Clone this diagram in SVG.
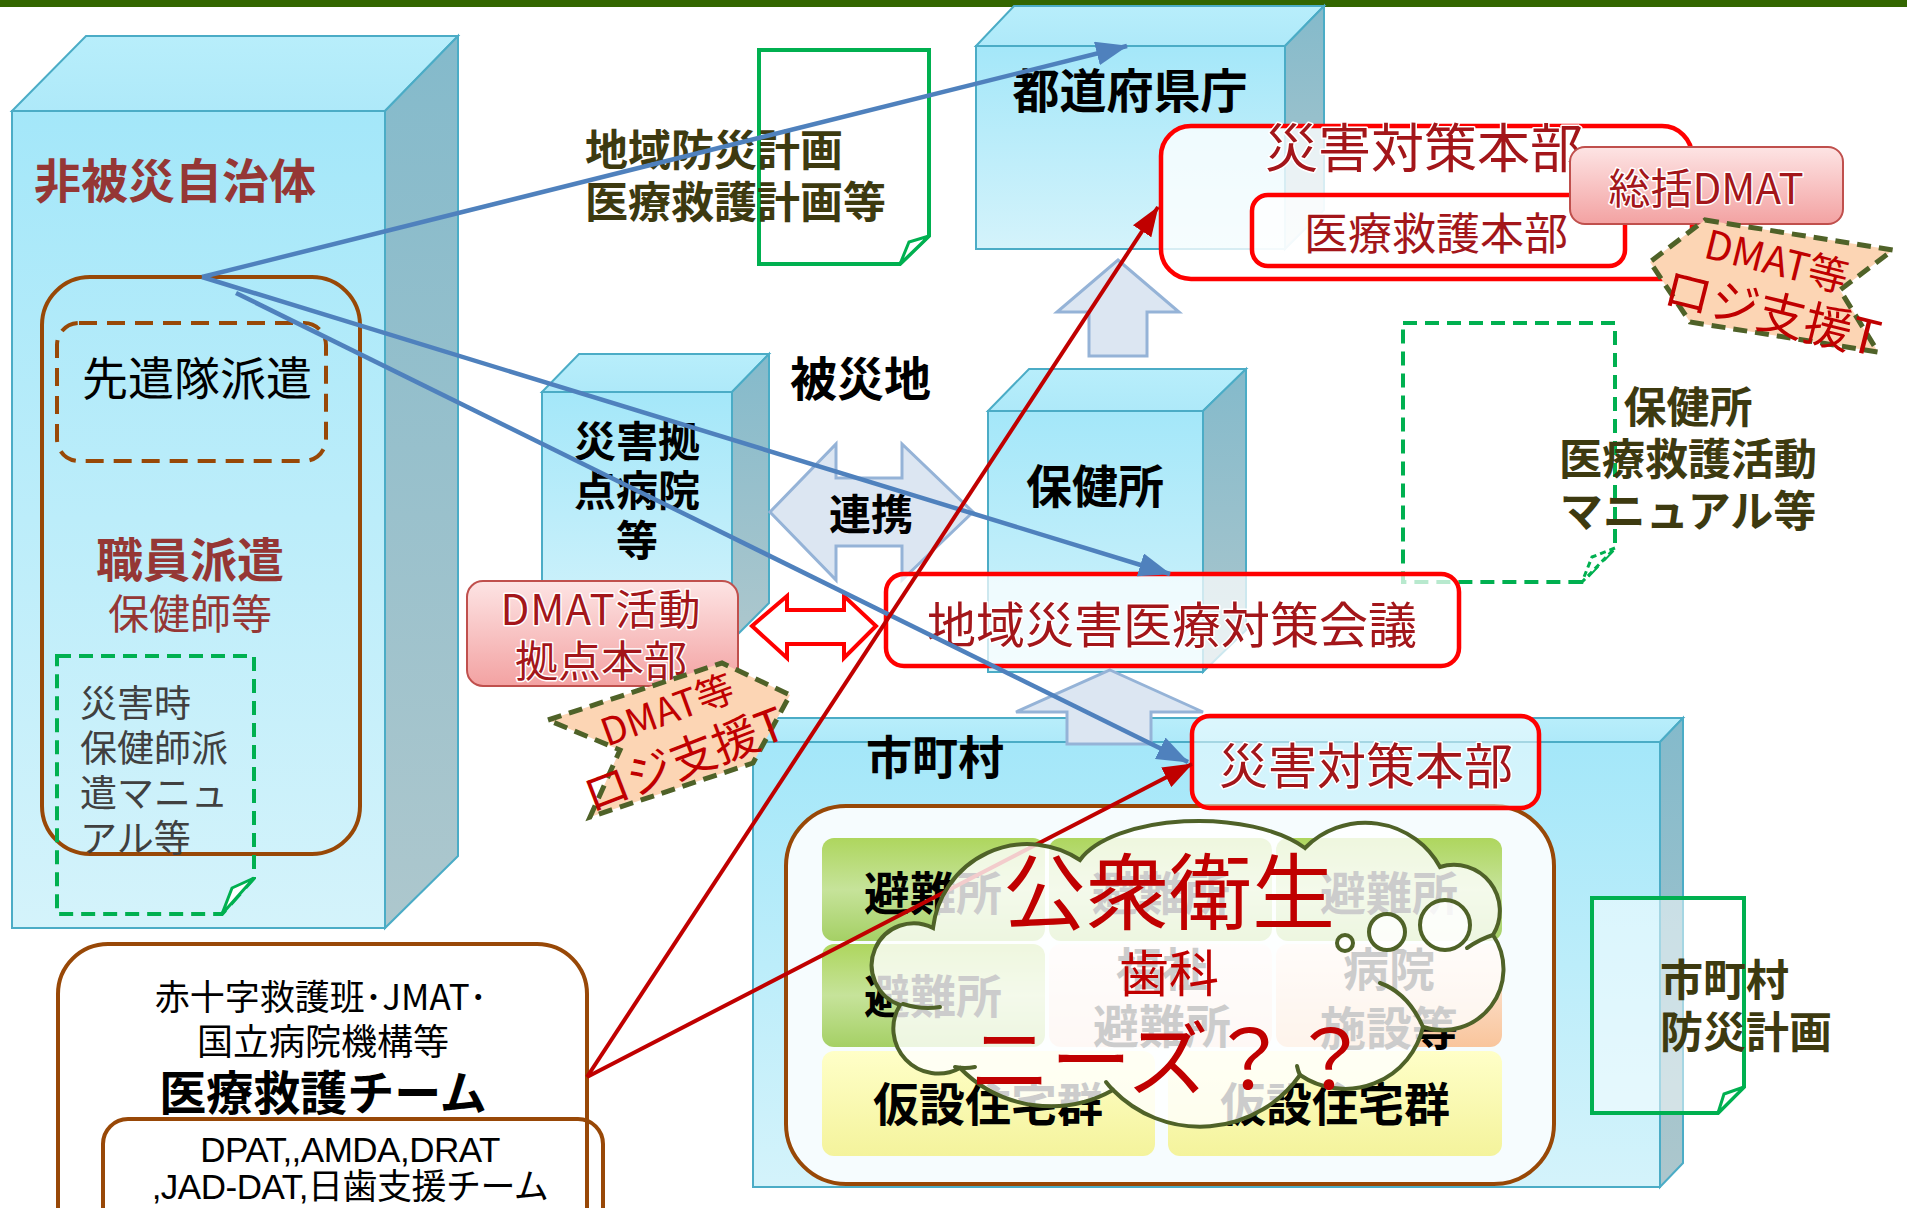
<svg xmlns="http://www.w3.org/2000/svg" width="1907" height="1208" viewBox="0 0 1907 1208">
<defs>
<linearGradient id="gFront" x1="0" y1="0" x2="0" y2="1"><stop offset="0" stop-color="#a4e7f9"/><stop offset="1" stop-color="#d4f3fb"/></linearGradient>
<linearGradient id="gTop" x1="0" y1="0" x2="0" y2="1"><stop offset="0" stop-color="#b8eefb"/><stop offset="1" stop-color="#aee9f9"/></linearGradient>
<linearGradient id="gSide" x1="0" y1="0" x2="0" y2="1"><stop offset="0" stop-color="#84bacb"/><stop offset="1" stop-color="#adc7cd"/></linearGradient>
<linearGradient id="gPink" x1="0" y1="0" x2="0" y2="1"><stop offset="0" stop-color="#fde4e4"/><stop offset="1" stop-color="#f3a2a2"/></linearGradient>
<linearGradient id="gGreen" x1="0" y1="0" x2="0" y2="1"><stop offset="0" stop-color="#aed65e"/><stop offset="0.5" stop-color="#c6e39a"/><stop offset="1" stop-color="#a5d065"/></linearGradient>
<linearGradient id="gPk2" x1="0" y1="0" x2="0" y2="1"><stop offset="0" stop-color="#fdf2ee"/><stop offset="1" stop-color="#f8dccd"/></linearGradient>
<linearGradient id="gPk3" x1="0" y1="0" x2="0" y2="1"><stop offset="0" stop-color="#fdeee4"/><stop offset="1" stop-color="#f9c59c"/></linearGradient>
<linearGradient id="gYel" x1="0" y1="0" x2="0" y2="1"><stop offset="0" stop-color="#ffffc8"/><stop offset="1" stop-color="#f4f39c"/></linearGradient>
<marker id="mBlue" markerUnits="userSpaceOnUse" markerWidth="32" markerHeight="24" refX="31" refY="12" orient="auto"><path d="M0,0 L32,12 L0,24 z" fill="#4f81bd"/></marker>
<marker id="mRed" markerUnits="userSpaceOnUse" markerWidth="30" markerHeight="22" refX="29" refY="11" orient="auto"><path d="M0,0 L30,11 L0,22 z" fill="#c00000"/></marker>
<style>
.jp{font-family:"Noto Sans CJK JP","Noto Sans CJK SC",sans-serif}
.b{font-weight:700}
.front{fill:url(#gFront);stroke:#4bacc6;stroke-width:2}
.top{fill:url(#gTop);stroke:#4bacc6;stroke-width:2}
.side{fill:url(#gSide);stroke:#4bacc6;stroke-width:2}
.dr{fill:#953735}
.rt{fill:#a3161a;stroke:#ffffff;stroke-width:3;paint-order:stroke;stroke-linejoin:round}
.olive{fill:#3d3a10}
.brown{fill:none;stroke:#984807;stroke-width:4}
.redbox{stroke:#ff0000;stroke-width:4.5}
.pinkbox{fill:url(#gPink);stroke:#c0504d;stroke-width:2}
.doc{fill:none;stroke:#00b050;stroke-width:4}
.docd{fill:none;stroke:#00b050;stroke-width:4;stroke-dasharray:14 8}
.fold{fill:#ffffff;stroke:#00b050;stroke-width:3}
.blk{fill:#000}
.bluearrow{fill:#dce6f2;stroke:#95b3d7;stroke-width:3}
.logi{fill:#fcd5b4;stroke:#4f6228;stroke-width:5;stroke-dasharray:14 8}
.logit{fill:#c00000;font-family:"Noto Sans CJK JP",sans-serif}
.bl{fill:none;stroke:#4f81bd;stroke-width:4.5}
.rl{fill:none;stroke:#c00000;stroke-width:4}
.cell{stroke:none}
.ct{font-family:"Noto Sans CJK JP",sans-serif;font-weight:700;font-size:46px;fill:#000;text-anchor:middle}
.cl{fill:#ffffff;fill-opacity:0.8;stroke:#4f6228;stroke-width:4}
.hook{fill:none;stroke:#4f6228;stroke-width:4;stroke-linecap:round}
</style>
</defs>
<rect x="0" y="0" width="1907" height="1208" fill="#ffffff"/>
<rect x="0" y="0" width="1907" height="7" fill="#336600"/>

<!-- 非被災自治体 -->
<g id="hihisai">
<polygon class="front" points="12,111 385,111 385,928 12,928"/>
<polygon class="top" points="12,111 86,36 458,36 385,111"/>
<polygon class="side" points="385,111 458,36 458,856 385,928"/>
<text class="jp b dr" x="34" y="198" font-size="47">非被災自治体</text>
<rect class="brown" x="42" y="277" width="318" height="577" rx="48"/>
</g>
<g id="senken">
<rect x="57" y="323" width="269" height="138" rx="22" fill="none" stroke="#984807" stroke-width="4" stroke-dasharray="18 10"/>
<text class="jp blk" x="197" y="395" font-size="46" text-anchor="middle">先遣隊派遣</text>
</g>
<g id="shokuin">
<text class="jp b dr" x="190" y="577" font-size="47" text-anchor="middle">職員派遣</text>
<text class="jp dr" x="190" y="629" font-size="41" text-anchor="middle">保健師等</text>
</g>
<g id="manual1">
<path class="docd" d="M57,656 H254 V878 L222,914 H57 Z"/>
<path class="fold" d="M254,878 L232,888 L222,914 Z"/>
<g class="jp" font-size="37" fill="#404040">
<text x="80" y="717">災害時</text>
<text x="80" y="762">保健師派</text>
<text x="80" y="807">遣マニュ</text>
<text x="80" y="852">アル等</text>
</g>
</g>

<!-- 医療救護チーム -->
<g id="iryoteam">
<rect class="brown" x="58" y="944" width="529" height="320" rx="50" fill="#ffffff"/>
<text class="jp blk" x="321" y="1010" font-size="35" text-anchor="middle">赤十字救護班･JMAT･</text>
<text class="jp blk" x="323" y="1055" font-size="36" text-anchor="middle">国立病院機構等</text>
<text class="jp b blk" x="323" y="1110" font-size="47" text-anchor="middle">医療救護チーム</text>
<rect class="brown" x="103" y="1119" width="500" height="130" rx="25" fill="#ffffff"/>
<text x="350" y="1162" font-size="35" text-anchor="middle" font-family="Liberation Sans, sans-serif" letter-spacing="-0.5">DPAT,,AMDA,DRAT</text>
<text x="350" y="1199" font-size="35" text-anchor="middle" font-family="Liberation Sans, 'Noto Sans CJK JP', sans-serif" letter-spacing="-0.5">,JAD-DAT,日歯支援チーム</text>
</g>

<!-- 地域防災計画 -->
<g id="chiikiplan">
<path class="doc" d="M759,50 H929 V236 L900,264 H759 Z"/>
<path class="fold" d="M929,236 L909,242 L900,264 Z"/>
<text class="jp b olive" x="585" y="166" font-size="43">地域防災計画</text>
<text class="jp b olive" x="585" y="218" font-size="43">医療救護計画等</text>
</g>

<g id="hisaichi">
<text class="jp b blk" x="790" y="396" font-size="47">被災地</text>
</g>

<!-- 都道府県庁 -->
<g id="todofuken">
<polygon class="front" points="976,46 1285,46 1285,249 976,249"/>
<polygon class="top" points="976,46 1014,6 1324,6 1285,46"/>
<polygon class="side" points="1285,46 1324,6 1324,210 1285,249"/>
<text class="jp b blk" x="1130" y="108" font-size="47" text-anchor="middle">都道府県庁</text>
</g>

<!-- 災害拠点病院 -->
<g id="kyoten">
<polygon class="front" points="542,392 732,392 732,640 542,640"/>
<polygon class="top" points="542,392 579,354 769,354 732,392"/>
<polygon class="side" points="732,392 769,354 769,603 732,640"/>
<text class="jp b blk" x="637" y="457" font-size="42" text-anchor="middle">災害拠</text>
<text class="jp b blk" x="637" y="506" font-size="42" text-anchor="middle">点病院</text>
<text class="jp b blk" x="637" y="556" font-size="42" text-anchor="middle">等</text>
</g>

<!-- 保健所 -->
<g id="hokenjo">
<polygon class="front" points="988,411 1203,411 1203,672 988,672"/>
<polygon class="top" points="988,411 1029,369 1246,369 1203,411"/>
<polygon class="side" points="1203,411 1246,369 1246,630 1203,672"/>
<text class="jp b blk" x="1095" y="503" font-size="46" text-anchor="middle">保健所</text>
</g>

<!-- 市町村 -->
<g id="shichoson">
<polygon class="front" points="753,742 1660,742 1660,1187 753,1187"/>
<polygon class="top" points="753,742 776,718 1683,718 1660,742"/>
<polygon class="side" points="1660,742 1683,718 1683,1163 1660,1187"/>
<text class="jp b blk" x="866" y="774" font-size="46">市町村</text>
<rect x="786" y="806" width="768" height="378" rx="60" fill="#f6fcfe" stroke="#984807" stroke-width="4"/>
</g>
<g id="cells">
<rect class="cell" x="822" y="838" width="223" height="103" rx="12" fill="url(#gGreen)"/>
<rect class="cell" x="1049" y="838" width="223" height="103" rx="12" fill="url(#gGreen)"/>
<rect class="cell" x="1276" y="838" width="226" height="103" rx="12" fill="url(#gGreen)"/>
<rect class="cell" x="822" y="944" width="223" height="103" rx="12" fill="url(#gGreen)"/>
<rect class="cell" x="1049" y="944" width="223" height="103" rx="12" fill="url(#gPk2)"/>
<rect class="cell" x="1276" y="944" width="226" height="103" rx="12" fill="url(#gPk3)"/>
<rect class="cell" x="822" y="1051" width="333" height="105" rx="12" fill="url(#gYel)"/>
<rect class="cell" x="1168" y="1051" width="334" height="105" rx="12" fill="url(#gYel)"/>
<text class="ct" x="933" y="910">避難所</text>
<text class="ct" x="1161" y="910">避難所</text>
<text class="ct" x="1389" y="910">避難所</text>
<text class="ct" x="933" y="1013">避難所</text>
<text class="ct" x="1162" y="986">福祉</text>
<text class="ct" x="1162" y="1043">避難所</text>
<text class="ct" x="1389" y="986">病院</text>
<text class="ct" x="1389" y="1045">施設等</text>
<text class="ct" x="988" y="1121" font-size="47">仮設住宅群</text>
<text class="ct" x="1335" y="1121" font-size="47">仮設住宅群</text>
</g>

<!-- 市町村防災計画 -->
<g id="shiplan">
<path d="M1592,898 H1744 V1087 L1718,1113 H1592 Z" fill="#ffffff" fill-opacity="0.5" stroke="#00b050" stroke-width="4"/>
<path class="fold" d="M1744,1087 L1724,1094 L1718,1113 Z"/>
<text class="jp b olive" x="1660" y="996" font-size="43">市町村</text>
<text class="jp b olive" x="1660" y="1048" font-size="43">防災計画</text>
</g>

<!-- 保健所マニュアル -->
<g id="manual2">
<path class="docd" d="M1403,323 H1615 V548 L1582,582 H1403 Z"/>
<path class="fold" d="M1615,548 L1592,557 L1582,582 Z" stroke-dasharray="6 4"/>
<text class="jp b olive" x="1688" y="423" font-size="43" text-anchor="middle">保健所</text>
<text class="jp b olive" x="1688" y="475" font-size="43" text-anchor="middle">医療救護活動</text>
<text class="jp b olive" x="1688" y="527" font-size="43" text-anchor="middle">マニュアル等</text>
</g>

<!-- block arrows -->
<g id="renkei">
<polygon class="bluearrow" points="770,512 836,444 836,478 902,478 902,444 973,512 902,580 902,546 836,546 836,580"/>
<text class="jp b blk" x="871" y="530" font-size="42" text-anchor="middle">連携</text>
</g>
<g id="uparrow1">
<polygon class="bluearrow" points="1118,260 1179,312 1147,312 1147,356 1089,356 1089,312 1057,312"/>
</g>
<g id="uparrow2">
<polygon class="bluearrow" points="1110,670 1203,712 1151,712 1151,744 1067,744 1067,712 1016,712"/>
</g>

<!-- red boxes -->
<g id="ken-saitai">
<rect class="redbox" x="1161" y="126" width="531" height="153" rx="30" fill="#ffffff" fill-opacity="0.78"/>
<text class="jp rt" x="1424" y="168" font-size="53" text-anchor="middle">災害対策本部</text>
</g>
<g id="iryohonbu">
<rect class="redbox" x="1252" y="195" width="373" height="71" rx="16" fill="#ffffff" fill-opacity="0.7"/>
<text class="jp rt" x="1436" y="250" font-size="44" text-anchor="middle">医療救護本部</text>
</g>
<g id="sokatsu">
<rect class="pinkbox" x="1570" y="147" width="273" height="77" rx="15"/>
<text class="jp rt" x="1706" y="204" font-size="42" text-anchor="middle">総括DMAT</text>
</g>
<g id="logi2">
<polygon class="logi" points="1705,220 1893,250 1840,290 1878,352 1690,322 1650,262"/>
<text class="logit" font-size="40" text-anchor="middle" transform="translate(1773,275) rotate(14)">DMAT等</text>
<text class="logit" font-size="48" text-anchor="middle" transform="translate(1768,330) rotate(14)">ロジ支援T</text>
</g>
<g id="dmatkyoten">
<rect class="pinkbox" x="467" y="581" width="271" height="105" rx="16"/>
<text class="jp rt" x="601" y="625" font-size="42" text-anchor="middle" letter-spacing="1">DMAT活動</text>
<text class="jp rt" x="601" y="677" font-size="43" text-anchor="middle">拠点本部</text>
</g>
<g id="logi1">
<polygon class="logi" points="548,720 722,663 790,695 753,763 590,817 620,750"/>
<text class="logit" font-size="38" text-anchor="middle" transform="translate(672,723) rotate(-20)">DMAT等</text>
<text class="logit" font-size="46" text-anchor="middle" transform="translate(690,775) rotate(-21)">ロジ支援T</text>
</g>
<g id="redlr">
<polygon points="752,626 787,596 787,610 844,610 844,596 876,626 844,658 844,644 787,644 787,658" fill="#ffffff" stroke="#ff0000" stroke-width="4"/>
</g>
<g id="kaigi">
<rect class="redbox" x="886" y="574" width="573" height="92" rx="18" fill="#ffffff" fill-opacity="0.72"/>
<text class="jp rt" x="1172" y="643" font-size="49" text-anchor="middle">地域災害医療対策会議</text>
</g>
<g id="shi-saitai">
<rect class="redbox" x="1192" y="716" width="347" height="92" rx="18" fill="#ffffff" fill-opacity="0.5"/>
<text class="jp rt" x="1366" y="784" font-size="49" text-anchor="middle">災害対策本部</text>
</g>

<!-- connectors -->
<g id="connectors">
<line class="bl" x1="202" y1="277" x2="1127" y2="46" marker-end="url(#mBlue)"/>
<line class="bl" x1="202" y1="277" x2="1170" y2="574" marker-end="url(#mBlue)"/>
<line class="bl" x1="236" y1="293" x2="1188" y2="762" marker-end="url(#mBlue)"/>
<line class="rl" x1="587" y1="1077" x2="1158" y2="207" marker-end="url(#mRed)"/>
<line class="rl" x1="587" y1="1077" x2="1192" y2="764" marker-end="url(#mRed)"/>
</g>

<!-- cloud -->
<g id="cloud">
<path class="cl" d="M900,1005 A42,42 0 1 1 933,928 A95,95 0 0 1 1080,860 A125,57 0 0 1 1305,848 A85,85 0 0 1 1440,867 A46,46 0 0 1 1493,935 A61,61 0 0 1 1423,1027 A80,80 0 0 1 1300,1075 A122,122 0 0 1 1113,1090 A127,127 0 0 1 960,1068 A45,45 0 0 1 900,1005 Z"/>
<path class="hook" d="M903,1004 Q922,1010 940,1007"/>
<path class="hook" d="M955,1067 Q965,1069 975,1067"/>
<path class="hook" d="M1423,1027 Q1408,993 1380,983"/>
<path class="hook" d="M1493,935 Q1480,939 1467,948"/>
<path class="hook" d="M1113,1090 Q1109,1086 1106,1082"/>
<path class="hook" d="M1300,1075 Q1298,1071 1297,1066"/>
<circle class="cl" cx="1345" cy="943" r="8"/>
<circle class="cl" cx="1387" cy="932" r="18"/>
<circle class="cl" cx="1445" cy="925" r="25"/>
<text class="jp" x="1169" y="923" font-size="83" fill="#c00000" text-anchor="middle">公衆衛生</text>
<text class="jp" x="1169" y="992" font-size="50" fill="#c00000" text-anchor="middle">歯科</text>
<text class="jp" x="1170" y="1089" font-size="81" fill="#c00000" text-anchor="middle">ニーズ？？</text>
</g>
</svg>
